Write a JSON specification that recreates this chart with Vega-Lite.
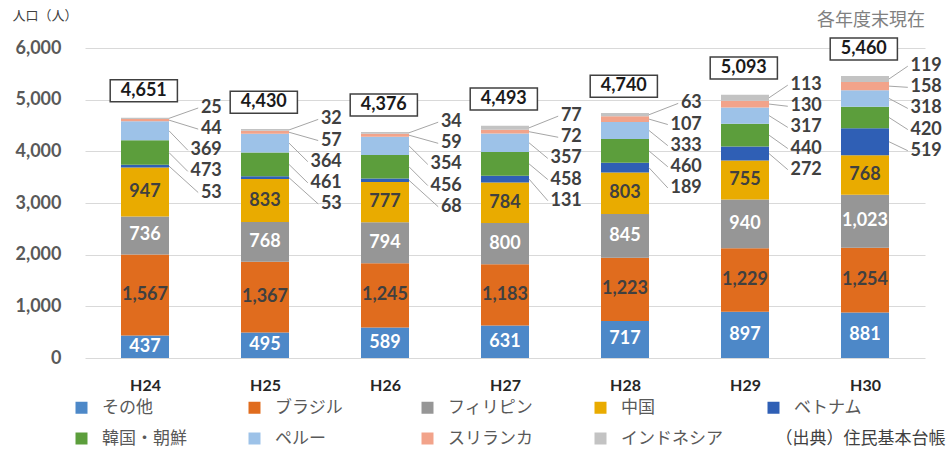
{
  "$schema": "https://vega.github.io/schema/vega-lite/v6.json",
  "width": 840,
  "height": 310,
  "autosize": {"type": "none"},
  "padding": {"left": 85, "top": 48, "right": 26, "bottom": 103},
  "background": "white",
  "config": {"view": {"stroke": null}, "font": "Lato"},
  "title": {"text": "各年度末現在", "anchor": "end", "frame": "group", "font": "Noto Sans CJK JP", "fontSize": 18, "fontWeight": "normal", "color": "#808080", "offset": 0, "dy": 21},
  "data": {"values": [
    {"year": "H24", "cat": "その他", "v": 437}, {"year": "H24", "cat": "ブラジル", "v": 1567}, {"year": "H24", "cat": "フィリピン", "v": 736}, {"year": "H24", "cat": "中国", "v": 947}, {"year": "H24", "cat": "ベトナム", "v": 53}, {"year": "H24", "cat": "韓国・朝鮮", "v": 473}, {"year": "H24", "cat": "ペルー", "v": 369}, {"year": "H24", "cat": "スリランカ", "v": 44}, {"year": "H24", "cat": "インドネシア", "v": 25},
    {"year": "H25", "cat": "その他", "v": 495}, {"year": "H25", "cat": "ブラジル", "v": 1367}, {"year": "H25", "cat": "フィリピン", "v": 768}, {"year": "H25", "cat": "中国", "v": 833}, {"year": "H25", "cat": "ベトナム", "v": 53}, {"year": "H25", "cat": "韓国・朝鮮", "v": 461}, {"year": "H25", "cat": "ペルー", "v": 364}, {"year": "H25", "cat": "スリランカ", "v": 57}, {"year": "H25", "cat": "インドネシア", "v": 32},
    {"year": "H26", "cat": "その他", "v": 589}, {"year": "H26", "cat": "ブラジル", "v": 1245}, {"year": "H26", "cat": "フィリピン", "v": 794}, {"year": "H26", "cat": "中国", "v": 777}, {"year": "H26", "cat": "ベトナム", "v": 68}, {"year": "H26", "cat": "韓国・朝鮮", "v": 456}, {"year": "H26", "cat": "ペルー", "v": 354}, {"year": "H26", "cat": "スリランカ", "v": 59}, {"year": "H26", "cat": "インドネシア", "v": 34},
    {"year": "H27", "cat": "その他", "v": 631}, {"year": "H27", "cat": "ブラジル", "v": 1183}, {"year": "H27", "cat": "フィリピン", "v": 800}, {"year": "H27", "cat": "中国", "v": 784}, {"year": "H27", "cat": "ベトナム", "v": 131}, {"year": "H27", "cat": "韓国・朝鮮", "v": 458}, {"year": "H27", "cat": "ペルー", "v": 357}, {"year": "H27", "cat": "スリランカ", "v": 72}, {"year": "H27", "cat": "インドネシア", "v": 77},
    {"year": "H28", "cat": "その他", "v": 717}, {"year": "H28", "cat": "ブラジル", "v": 1223}, {"year": "H28", "cat": "フィリピン", "v": 845}, {"year": "H28", "cat": "中国", "v": 803}, {"year": "H28", "cat": "ベトナム", "v": 189}, {"year": "H28", "cat": "韓国・朝鮮", "v": 460}, {"year": "H28", "cat": "ペルー", "v": 333}, {"year": "H28", "cat": "スリランカ", "v": 107}, {"year": "H28", "cat": "インドネシア", "v": 63},
    {"year": "H29", "cat": "その他", "v": 897}, {"year": "H29", "cat": "ブラジル", "v": 1229}, {"year": "H29", "cat": "フィリピン", "v": 940}, {"year": "H29", "cat": "中国", "v": 755}, {"year": "H29", "cat": "ベトナム", "v": 272}, {"year": "H29", "cat": "韓国・朝鮮", "v": 440}, {"year": "H29", "cat": "ペルー", "v": 317}, {"year": "H29", "cat": "スリランカ", "v": 130}, {"year": "H29", "cat": "インドネシア", "v": 113},
    {"year": "H30", "cat": "その他", "v": 881}, {"year": "H30", "cat": "ブラジル", "v": 1254}, {"year": "H30", "cat": "フィリピン", "v": 1023}, {"year": "H30", "cat": "中国", "v": 768}, {"year": "H30", "cat": "ベトナム", "v": 519}, {"year": "H30", "cat": "韓国・朝鮮", "v": 420}, {"year": "H30", "cat": "ペルー", "v": 318}, {"year": "H30", "cat": "スリランカ", "v": 158}, {"year": "H30", "cat": "インドネシア", "v": 119}
  ]},
  "transform": [
    {"calculate": "indexof(['H24','H25','H26','H27','H28','H29','H30'], datum.year)", "as": "xi"},
    {"calculate": "indexof(['その他','ブラジル','フィリピン','中国','ベトナム','韓国・朝鮮','ペルー','スリランカ','インドネシア'], datum.cat)", "as": "k"},
    {"stack": "v", "groupby": ["year"], "sort": [{"field": "k", "order": "ascending"}], "as": ["y0", "y1"]},
    {"joinaggregate": [{"op": "sum", "field": "v", "as": "total"}], "groupby": ["year"]},
    {"calculate": "(datum.y0 + datum.y1) / 2", "as": "ymid"},
    {"calculate": "datum.xi - 0.2", "as": "xl"},
    {"calculate": "datum.xi + 0.2", "as": "xr"},
    {"calculate": "datum.xi + 0.64", "as": "xt"},
    {"calculate": "datum.xi + 0.2 + (50 - length(toString(datum.v)) * 10.4) / 120", "as": "xe"},
    {"calculate": "datum.total + 188 - 409 * (8 - datum.k)", "as": "ly"},
    {"calculate": "datum.xi - 0.29", "as": "bx1"},
    {"calculate": "datum.xi + 0.27", "as": "bx2"},
    {"calculate": "datum.xi - 0.01", "as": "bxc"},
    {"calculate": "datum.total + 309", "as": "by1"},
    {"calculate": "datum.total + 735", "as": "by2"},
    {"calculate": "datum.total + 522", "as": "byc"}
  ],
  "layer": [
    {
      "mark": {"type": "bar"},
      "encoding": {
        "x": {"field": "xl", "type": "quantitative", "scale": {"domain": [-0.5, 6.5], "nice": false, "zero": false},
          "axis": {"values": [0, 1, 2, 3, 4, 5, 6], "labelExpr": "['H24','H25','H26','H27','H28','H29','H30'][datum.value]", "grid": false, "domain": false, "ticks": false, "labelFont": "Lato", "labelFontSize": 16, "labelFontWeight": "bold", "labelColor": "#262626", "labelPadding": 19,
            "title": "（出典）住民基本台帳", "titleX": 690, "titleY": 80, "titleAlign": "left", "titleBaseline": "middle", "titleFont": "Noto Sans CJK JP", "titleFontSize": 17, "titleFontWeight": "normal", "titleColor": "#404040"}},
        "x2": {"field": "xr"},
        "y": {"field": "y0", "type": "quantitative", "scale": {"domain": [0, 6000], "nice": false},
          "axis": {"values": [0, 1000, 2000, 3000, 4000, 5000, 6000], "format": ",.0f", "grid": true, "gridColor": "#d9d9d9", "domain": false, "ticks": false, "labelFont": "Lato", "labelFontSize": 18, "labelFontWeight": "bold", "labelColor": "#595959", "labelPadding": 24,
            "title": "人口（人）", "titleAngle": 0, "titleX": -73, "titleY": -33, "titleAlign": "left", "titleBaseline": "middle", "titleFont": "Noto Sans CJK JP", "titleFontSize": 13, "titleFontWeight": "normal", "titleColor": "#404040"}},
        "y2": {"field": "y1"},
        "color": {"field": "cat", "type": "nominal",
          "scale": {"domain": ["その他", "ブラジル", "フィリピン", "中国", "ベトナム", "韓国・朝鮮", "ペルー", "スリランカ", "インドネシア"],
            "range": ["#4d88c8", "#e06c1e", "#969696", "#e9ab00", "#2f5fb5", "#5c9e3c", "#9dc2e8", "#f2a38a", "#c3c3c3"]},
          "legend": {"orient": "none", "legendX": -12, "legendY": 351, "direction": "horizontal", "columns": 5, "gridAlign": "all", "title": null, "symbolType": "square", "symbolSize": 144, "symbolStrokeWidth": 0, "labelFont": "Noto Sans CJK JP", "labelFontSize": 17, "labelColor": "#595959", "labelOffset": 12, "columnPadding": 42, "rowPadding": 13, "labelLimit": 200}}
      }
    },
    {
      "transform": [{"filter": "datum.k <= 3"}],
      "mark": {"type": "text", "font": "Lato", "fontSize": 18, "fontWeight": "bold", "baseline": "middle", "align": "center"},
      "encoding": {
        "x": {"field": "xi", "type": "quantitative", "scale": {"domain": [-0.5, 6.5], "nice": false, "zero": false}},
        "y": {"field": "ymid", "type": "quantitative", "scale": {"domain": [0, 6000], "nice": false}},
        "text": {"field": "v", "type": "quantitative", "format": ","},
        "color": {"condition": {"test": "datum.k === 0 || datum.k === 2", "value": "#ffffff"}, "value": "#404040"}
      }
    },
    {
      "transform": [{"filter": "datum.k >= 4"}],
      "mark": {"type": "rule", "color": "#a6a6a6", "strokeWidth": 1},
      "encoding": {
        "x": {"field": "xr", "type": "quantitative", "scale": {"domain": [-0.5, 6.5], "nice": false, "zero": false}},
        "x2": {"field": "xe"},
        "y": {"field": "ymid", "type": "quantitative", "scale": {"domain": [0, 6000], "nice": false}},
        "y2": {"field": "ly"}
      }
    },
    {
      "transform": [{"filter": "datum.k >= 4"}],
      "mark": {"type": "text", "font": "Lato", "fontSize": 18, "fontWeight": "bold", "baseline": "middle", "align": "right", "color": "#404040"},
      "encoding": {
        "x": {"field": "xt", "type": "quantitative", "scale": {"domain": [-0.5, 6.5], "nice": false, "zero": false}},
        "y": {"field": "ly", "type": "quantitative", "scale": {"domain": [0, 6000], "nice": false}},
        "text": {"field": "v", "type": "quantitative", "format": ","}
      }
    },
    {
      "transform": [{"filter": "datum.k === 0"}],
      "mark": {"type": "rect", "fill": "#ffffff", "stroke": "#404040", "strokeWidth": 1.5},
      "encoding": {
        "x": {"field": "bx1", "type": "quantitative", "scale": {"domain": [-0.5, 6.5], "nice": false, "zero": false}},
        "x2": {"field": "bx2"},
        "y": {"field": "by1", "type": "quantitative", "scale": {"domain": [0, 6000], "nice": false}},
        "y2": {"field": "by2"}
      }
    },
    {
      "transform": [{"filter": "datum.k === 0"}],
      "mark": {"type": "text", "font": "Lato", "fontSize": 18, "fontWeight": "bold", "baseline": "middle", "align": "center", "color": "#1a1a1a"},
      "encoding": {
        "x": {"field": "bxc", "type": "quantitative", "scale": {"domain": [-0.5, 6.5], "nice": false, "zero": false}},
        "y": {"field": "byc", "type": "quantitative", "scale": {"domain": [0, 6000], "nice": false}},
        "text": {"field": "total", "type": "quantitative", "format": ","}
      }
    }
  ]
}
